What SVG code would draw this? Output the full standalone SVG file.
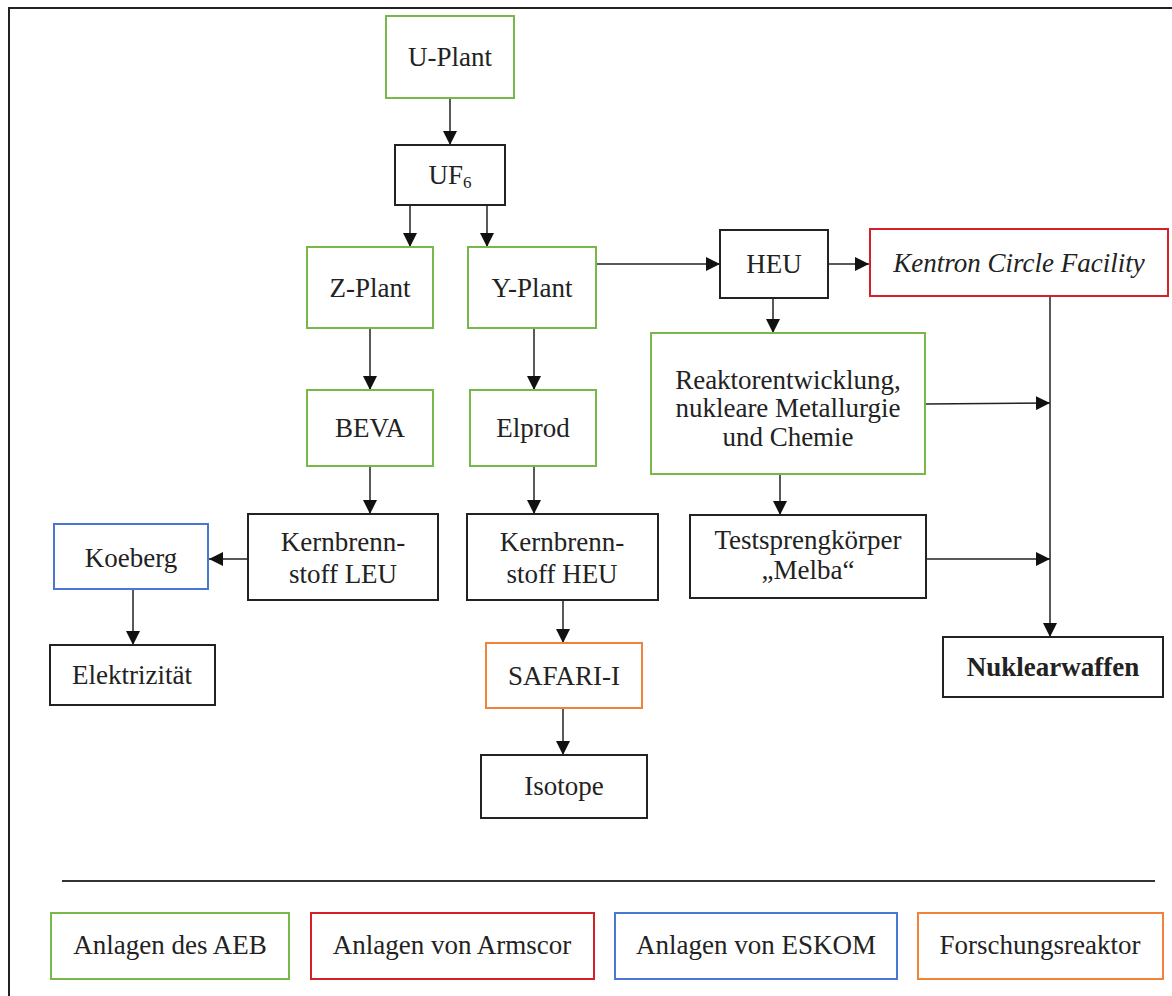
<svg xmlns="http://www.w3.org/2000/svg" width="1172" height="996" viewBox="0 0 1172 996">
<style>
text{font-family:"Liberation Serif","Times New Roman",serif;font-size:27px;fill:#222;text-anchor:middle}
.box{fill:#fff;stroke-width:2}
.k{stroke:#222}
.g{stroke:#78b84a}
.r{stroke:#d42026}
.b{stroke:#4a78d0}
.o{stroke:#f0823a}
.c{fill:none;stroke:#222;stroke-width:1.5}
</style>
<defs>
<marker id="ah" markerUnits="userSpaceOnUse" markerWidth="14" markerHeight="14" viewBox="0 0 14 14" refX="14" refY="7" orient="auto">
<path d="M0,0 L14,7 L0,14 Z" fill="#111"/>
</marker>
</defs>
<rect width="1172" height="996" fill="#fff"/>
<g id="frame">
<line x1="8" y1="8" x2="1172" y2="8" stroke="#222" stroke-width="2"/>
<line x1="9" y1="8" x2="9" y2="996" stroke="#222" stroke-width="2"/>
</g>
<g id="connectors">
<line class="c" x1="450" y1="98" x2="450" y2="145" marker-end="url(#ah)"/>
<line class="c" x1="410" y1="205" x2="410" y2="247" marker-end="url(#ah)"/>
<line class="c" x1="487" y1="205" x2="487" y2="247" marker-end="url(#ah)"/>
<line class="c" x1="596" y1="264" x2="720" y2="264" marker-end="url(#ah)"/>
<line class="c" x1="829" y1="264" x2="869" y2="264" marker-end="url(#ah)"/>
<line class="c" x1="773" y1="298" x2="773" y2="333" marker-end="url(#ah)"/>
<line class="c" x1="370" y1="328" x2="370" y2="390" marker-end="url(#ah)"/>
<line class="c" x1="534" y1="328" x2="534" y2="390" marker-end="url(#ah)"/>
<line class="c" x1="370" y1="466" x2="370" y2="514" marker-end="url(#ah)"/>
<line class="c" x1="534" y1="466" x2="534" y2="514" marker-end="url(#ah)"/>
<line class="c" x1="780" y1="474" x2="780" y2="515" marker-end="url(#ah)"/>
<line class="c" x1="248" y1="559" x2="209" y2="559" marker-end="url(#ah)"/>
<line class="c" x1="133" y1="589" x2="133" y2="645" marker-end="url(#ah)"/>
<line class="c" x1="563" y1="600" x2="563" y2="643" marker-end="url(#ah)"/>
<line class="c" x1="563" y1="708" x2="563" y2="755" marker-end="url(#ah)"/>
<line class="c" x1="1050" y1="296" x2="1050" y2="637" marker-end="url(#ah)"/>
<line class="c" x1="925" y1="404" x2="1050" y2="403" marker-end="url(#ah)"/>
<line class="c" x1="926" y1="559" x2="1050" y2="559" marker-end="url(#ah)"/>
<line x1="62" y1="881" x2="1155" y2="881" stroke="#333" stroke-width="2"/>
</g>
<g id="u-plant"><rect class="box g" x="386" y="16" width="128" height="82"/><text x="450" y="66">U-Plant</text></g>
<g id="uf6"><rect class="box k" x="395" y="145" width="110" height="60"/><text x="450" y="184">UF<tspan font-size="17" dy="4">6</tspan></text></g>
<g id="z-plant"><rect class="box g" x="307" y="247" width="126" height="81"/><text x="370" y="297">Z-Plant</text></g>
<g id="y-plant"><rect class="box g" x="468" y="247" width="128" height="81"/><text x="532" y="297">Y-Plant</text></g>
<g id="heu"><rect class="box k" x="720" y="230" width="108" height="68"/><text x="774" y="273">HEU</text></g>
<g id="kentron"><rect class="box r" x="870" y="229" width="298" height="67"/><text x="1019" y="272" font-style="italic">Kentron Circle Facility</text></g>
<g id="reaktor"><rect class="box g" x="651" y="333" width="274" height="141"/>
<text x="788" y="389">Reaktorentwicklung,</text><text x="788" y="417">nukleare Metallurgie</text><text x="788" y="446">und Chemie</text></g>
<g id="beva"><rect class="box g" x="307" y="390" width="126" height="76"/><text x="370" y="437">BEVA</text></g>
<g id="elprod"><rect class="box g" x="470" y="390" width="126" height="76"/><text x="533" y="437">Elprod</text></g>
<g id="leu"><rect class="box k" x="248" y="514" width="190" height="86"/><text x="343" y="551">Kernbrenn-</text><text x="343" y="583">stoff LEU</text></g>
<g id="heu-fuel"><rect class="box k" x="467" y="514" width="191" height="86"/><text x="562" y="551">Kernbrenn-</text><text x="562" y="583">stoff HEU</text></g>
<g id="koeberg"><rect class="box b" x="54" y="524" width="154" height="65"/><text x="131" y="567">Koeberg</text></g>
<g id="elektrizitaet"><rect class="box k" x="50" y="645" width="165" height="60"/><text x="132" y="684">Elektrizität</text></g>
<g id="safari"><rect class="box o" x="486" y="643" width="156" height="65"/><text x="564" y="685">SAFARI-I</text></g>
<g id="isotope"><rect class="box k" x="481" y="755" width="166" height="63"/><text x="564" y="795">Isotope</text></g>
<g id="melba"><rect class="box k" x="690" y="515" width="236" height="83"/><text x="808" y="549">Testsprengkörper</text><text x="808" y="579">„Melba“</text></g>
<g id="nuklearwaffen"><rect class="box k" x="943" y="637" width="220" height="60"/><text x="1053" y="676" font-weight="bold">Nuklearwaffen</text></g>
<g id="legend">
<rect class="box g" x="51" y="913" width="238" height="66"/><text x="170" y="954">Anlagen des AEB</text>
<rect class="box r" x="311" y="913" width="283" height="66"/><text x="452" y="954">Anlagen von Armscor</text>
<rect class="box b" x="615" y="913" width="282" height="66"/><text x="756" y="954">Anlagen von ESKOM</text>
<rect class="box o" x="918" y="913" width="245" height="66"/><text x="1040" y="954">Forschungsreaktor</text>
</g>
</svg>
